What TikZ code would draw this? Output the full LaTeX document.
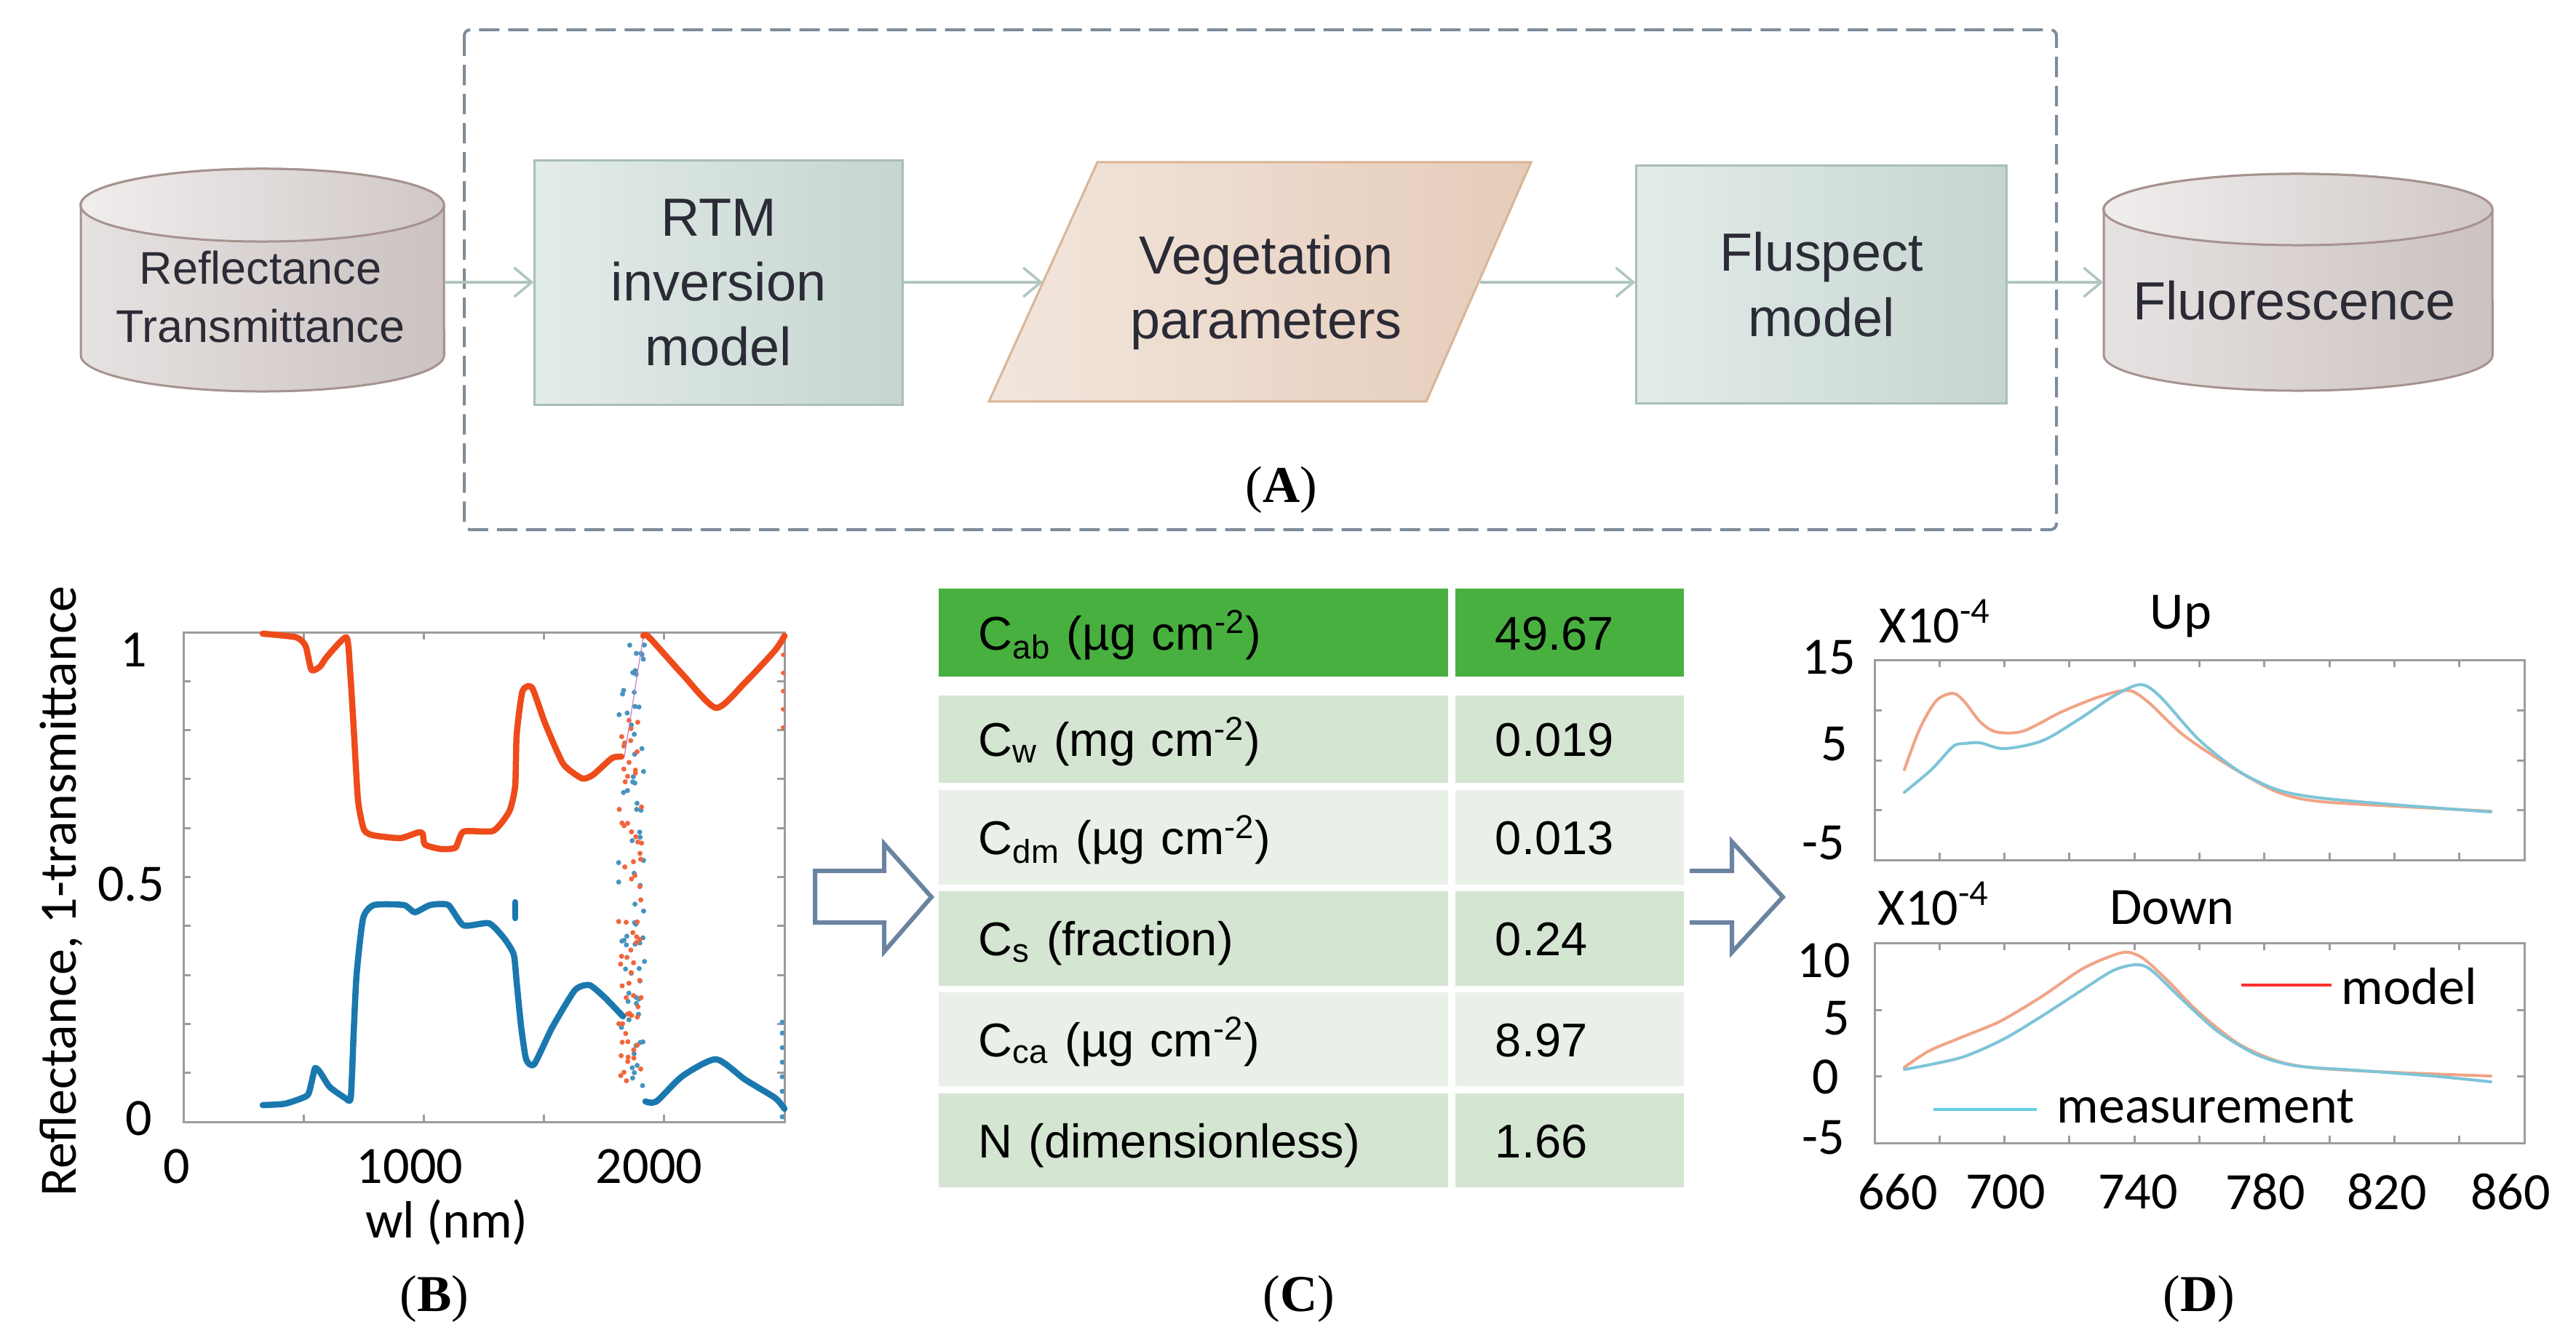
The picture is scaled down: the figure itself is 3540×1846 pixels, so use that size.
\documentclass[tikz,border=0pt]{standalone}
\usepackage{fontspec}
\setmainfont{Liberation Serif}
\newfontfamily\arialf{Liberation Sans}
\newfontfamily\calib{Carlito}
\usetikzlibrary{arrows.meta}
\definecolor{dashc}{HTML}{7D8B99}
\definecolor{connc}{HTML}{B0C6C0}
\definecolor{boxA}{HTML}{E3ECE9}
\definecolor{boxB}{HTML}{C6D5D0}
\definecolor{boxD}{HTML}{A9BEB7}
\definecolor{parA}{HTML}{F2E6DD}
\definecolor{parB}{HTML}{E5CCBA}
\definecolor{parD}{HTML}{D9B596}
\definecolor{cylA}{HTML}{E7E2E2}
\definecolor{cylB}{HTML}{CBC2C1}
\definecolor{cylD}{HTML}{A6928F}
\definecolor{txt}{HTML}{2B2B36}
\definecolor{tgreen}{HTML}{48B03F}
\definecolor{trowA}{HTML}{D4E5D1}
\definecolor{trowB}{HTML}{E9F0E7}
\definecolor{harrow}{HTML}{6A83A0}
\definecolor{refl}{HTML}{EE4B1B}
\definecolor{trans}{HTML}{1A78AE}
\definecolor{axisg}{HTML}{9C9C9C}
\definecolor{modc}{HTML}{F0A486}
\definecolor{meac}{HTML}{7DC4D8}
\definecolor{legr}{HTML}{FF3030}
\definecolor{legb}{HTML}{66CCE6}
\newcommand\cylfont{\arialf\fontsize{17.9pt}{23pt}\selectfont}
\newcommand\boxfont{\arialf\fontsize{21pt}{25.4pt}\selectfont}
\newcommand\tabfont{\arialf\fontsize{18.5pt}{22pt}\selectfont}
\newcommand\plotfont{\calib\fontsize{20.5pt}{24pt}\selectfont}
\newcommand\labfont{\fontsize{20.2pt}{24pt}\selectfont}
\tikzset{
 dashbox/.style={draw=dashc, line width=0.04cm, dash pattern=on 0.28cm off 0.12cm, rounded corners=0.08cm},
 conn/.style={draw=connc, line width=0.035cm, -{Straight Barb[length=0.24cm,width=0.40cm]}},
 procbox/.style={rectangle, draw=boxD, line width=0.03cm, left color=boxA, right color=boxB, text=txt, font=\boxfont, align=center, inner sep=0},
 cylbody/.style={draw=cylD, line width=0.03cm, left color=cylA, right color=cylB},
 cyltop/.style={draw=cylD, line width=0.03cm, left color=cylA!60!white, right color=cylB!90!white},
 ghost/.style={rectangle, draw=none, inner sep=0},
 cyltext/.style={text=txt, align=center, inner sep=0},
 cellt/.style={rectangle, inner ysep=0, inner xsep=0.55cm, text height=0.47cm, text depth=0cm, align=left, font=\tabfont, text=black},
 hollow/.style={draw=harrow, line width=0.06cm, line join=miter},
 axisl/.style={draw=axisg, line width=0.03cm},
 plt/.style={font=\plotfont, text=black, inner sep=0},
 panel/.style={font=\labfont, inner sep=0},
 bcurve/.style={line width=0.085cm, line join=round, line cap=round},
 dcurve/.style={line width=0.04cm, line join=round, line cap=round},
}
\begin{document}
\begin{tikzpicture}[x=0.01cm,y=-0.01cm]
\fill[white] (0,0) rectangle (3540,1846);
\useasboundingbox (0,0) rectangle (3540,1846);

% ---------------- (A) flow chart ----------------
\draw[dashbox] (638,41) rectangle (2826,728);

% left cylinder
\path[cylbody] (111,282) -- (111,488) arc[start angle=180,end angle=360,x radius=2.495cm,y radius=0.5cm] -- (610,282) arc[start angle=0,end angle=180,x radius=2.495cm,y radius=0.5cm] -- cycle;
\path[cyltop] (360.5,282) ellipse[x radius=2.495cm,y radius=0.5cm];
\node[ghost, minimum width=4.99cm, minimum height=3.0cm] (cylL) at (360.5,388) {};
\node[cyltext, font=\cylfont] (cylLt) at (358,408) {Reflectance\\Transmittance};

% RTM box
\node[procbox, minimum width=5.05cm, minimum height=3.35cm] (rtm) at (987.5,388.5) {RTM\\inversion\\model};

% parallelogram
\path[draw=parD, line width=0.03cm, left color=parA, right color=parB] (1508,223) -- (2104,223) -- (1960,552) -- (1359,552) -- cycle;
\node[cyltext, font=\boxfont] (vp) at (1740,402) {Vegetation\\parameters};
\coordinate (vpin) at (1433,388);
\coordinate (vpout) at (2034,388);

% Fluspect box
\node[procbox, minimum width=5.08cm, minimum height=3.26cm] (flu) at (2503,391) {Fluspect\\model};

% right cylinder
\path[cylbody] (2891,288) -- (2891,488) arc[start angle=180,end angle=360,x radius=2.67cm,y radius=0.49cm] -- (3425,288) arc[start angle=0,end angle=180,x radius=2.67cm,y radius=0.49cm] -- cycle;
\path[cyltop] (3158,288) ellipse[x radius=2.67cm,y radius=0.49cm];
\node[ghost, minimum width=5.34cm, minimum height=3.0cm] (cylR) at (3158,388) {};
\node[cyltext, font=\boxfont] (cylRt) at (3153,413.6) {Fluorescence};

% connectors
\draw[conn] (cylL.east) -- (cylL.east -| rtm.west);
\draw[conn] (rtm.east |- vpin) -- (vpin);
\draw[conn] (vpout) -- (vpout -| flu.west);
\draw[conn] (flu.east |- cylR.west) -- (cylR.west);

\node[panel] (labA) at (1761,673) {(\textbf{A})};

% ---------------- (B) plot ----------------
\draw[axisl] (252,869) rectangle (1078,1542);
\foreach \k in {1,...,4} {
  \draw[axisl] ({252+165.2*\k},1542) -- ++(0,-10);
  \draw[axisl] ({252+165.2*\k},869) -- ++(0,10);
}
\foreach \k in {1,...,9} {
  \draw[axisl] (252,{1542-67.3*\k}) -- ++(10,0);
  \draw[axisl] (1078,{1542-67.3*\k}) -- ++(-10,0);
}
% noise region
\pgfmathsetseed{11}
\foreach \i in {1,...,70} {
  \pgfmathsetmacro\px{868+18*rand}
  \pgfmathsetmacro\py{1205+330*rand}
  \fill[trans!80] (\px,\py) circle[radius=0.035cm];
}
\foreach \i in {1,...,70} {
  \pgfmathsetmacro\px{866+16*rand}
  \pgfmathsetmacro\py{1240+250*rand}
  \fill[refl!85] (\px,\py) circle[radius=0.035cm];
}
\foreach \py in {1405,1420,1440,1460,1480,1500,1520,1535} { \fill[trans!80] (1075,\py) circle[radius=0.035cm]; }
\foreach \py in {880,900,925,950,975,1000} { \fill[refl!85] (1076,\py) circle[radius=0.03cm]; }
\draw[violet!50, line width=0.012cm] (858,1040) -- (884,875);

\draw[refl, bcurve] plot[smooth, tension=0.35] coordinates {(361,871) (407,876) (420,888) (428,921) (440,916) (449,903) (476,876) (481,920) (486,1000) (492,1100) (500,1140) (512,1148) (550,1152) (575,1144) (581,1146) (584,1161) (606,1167) (626,1165) (637,1143) (678,1142) (700,1115) (708,1080) (710,1010) (718,950) (731,945) (749,994) (774,1050) (800,1070) (815,1065) (841,1042) (854,1040)};
\draw[refl, bcurve] plot[smooth, tension=0.4] coordinates {(884,874) (892,876) (938,927) (984,973) (1024,938) (1065,894) (1078,874)};
\draw[trans, bcurve] plot[smooth, tension=0.35] coordinates {(361,1519) (392,1517) (422,1506) (428,1488) (433,1468) (440,1474) (453,1494) (474,1509) (482,1509) (486,1420) (490,1340) (499,1262) (514,1244) (555,1244) (570,1254) (591,1244) (616,1244) (637,1272) (672,1269) (693,1290) (706,1312) (710,1350) (716,1410) (723,1456) (734,1463) (759,1412) (790,1361) (810,1354) (831,1371) (856,1397)};
\draw[trans, bcurve] plot[smooth, tension=0.4] coordinates {(887,1514) (902,1514) (938,1479) (984,1456) (1024,1484) (1065,1509) (1078,1524)};
\draw[trans, bcurve] (708,1240) -- (708,1262);

\node[plt] (by1) at (184,893) {1};
\node[plt] (by2) at (180,1215) {0.5};
\node[plt] (by3) at (191,1537) {0};
\node[plt] (bx1) at (243,1603) {0};
\node[plt] (bx2) at (563,1603) {1000};
\node[plt] (bx3) at (892,1603) {2000};
\node[plt] (bxl) at (614,1680) {wl (nm)};
\node[plt, rotate=90] (byl) at (84,1225) {Reflectance, 1-transmittance};
\node[panel] (labB) at (597,1785) {(\textbf{B})};

% hollow arrow B -> C
\draw[hollow] (1120,1197) -- (1215,1197) -- (1215,1160) -- (1280,1233) -- (1215,1308) -- (1215,1268) -- (1120,1268) -- cycle;

% ---------------- (C) table ----------------
\node[cellt, fill=tgreen, text width=5.9cm, minimum height=1.21cm] (c11) at (1640,869.5) {C\textsubscript{ab} (µg cm\textsuperscript{-2})};
\node[cellt, fill=tgreen, text width=2.04cm, minimum height=1.21cm] (c12) at (2157,869.5) {49.67};
\node[cellt, fill=trowA, text width=5.9cm, minimum height=1.20cm] (c21) at (1640,1016) {C\textsubscript{w} (mg cm\textsuperscript{-2})};
\node[cellt, fill=trowA, text width=2.04cm, minimum height=1.20cm] (c22) at (2157,1016) {0.019};
\node[cellt, fill=trowB, text width=5.9cm, minimum height=1.30cm] (c31) at (1640,1151) {C\textsubscript{dm} (µg cm\textsuperscript{-2})};
\node[cellt, fill=trowB, text width=2.04cm, minimum height=1.30cm] (c32) at (2157,1151) {0.013};
\node[cellt, fill=trowA, text width=5.9cm, minimum height=1.30cm] (c41) at (1640,1290) {C\textsubscript{s} (fraction)};
\node[cellt, fill=trowA, text width=2.04cm, minimum height=1.30cm] (c42) at (2157,1290) {0.24};
\node[cellt, fill=trowB, text width=5.9cm, minimum height=1.29cm] (c51) at (1640,1428.5) {C\textsubscript{ca} (µg cm\textsuperscript{-2})};
\node[cellt, fill=trowB, text width=2.04cm, minimum height=1.29cm] (c52) at (2157,1428.5) {8.97};
\node[cellt, fill=trowA, text width=5.9cm, minimum height=1.29cm] (c61) at (1640,1567.5) {N (dimensionless)};
\node[cellt, fill=trowA, text width=2.04cm, minimum height=1.29cm] (c62) at (2157,1567.5) {1.66};
\node[panel] (labC) at (1785,1785) {(\textbf{C})};

% hollow arrow C -> D (open tail)
\draw[hollow] (2322,1197) -- (2380,1197) -- (2380,1157) -- (2450,1233) -- (2380,1309) -- (2380,1268) -- (2322,1268);

% ---------------- (D) plots ----------------
\draw[axisl] (2576,907) rectangle (3469,1182);
\draw[axisl] (2576,1296) rectangle (3469,1571);
\foreach \k in {1,...,9} {
  \draw[axisl] ({2576+89.3*\k},907) -- ++(0,10);
  \draw[axisl] ({2576+89.3*\k},1182) -- ++(0,-10);
  \draw[axisl] ({2576+89.3*\k},1296) -- ++(0,10);
  \draw[axisl] ({2576+89.3*\k},1571) -- ++(0,-10);
}
\foreach \yy in {976,1045,1113,1388,1479} {
  \draw[axisl] (2576,\yy) -- ++(10,0);
  \draw[axisl] (3469,\yy) -- ++(-10,0);
}
% Up curves
\draw[modc, dcurve] plot[smooth, tension=0.5] coordinates {(2617,1058) (2638,1002) (2661,963) (2684,953) (2700,965) (2721,992) (2743,1006) (2780,1005) (2834,978) (2887,957) (2925,949) (2952,965) (3000,1010) (3064,1053) (3128,1088) (3182,1101) (3289,1108) (3423,1115)};
\draw[meac, dcurve] plot[smooth, tension=0.5] coordinates {(2617,1089) (2654,1058) (2684,1026) (2700,1022) (2721,1021) (2754,1029) (2807,1018) (2861,986) (2904,957) (2941,941) (2968,957) (3021,1016) (3075,1059) (3128,1085) (3182,1096) (3289,1106) (3423,1116)};
% Down curves
\draw[modc, dcurve] plot[smooth, tension=0.5] coordinates {(2617,1467) (2650,1445) (2690,1428) (2730,1412) (2754,1401) (2807,1369) (2861,1332) (2904,1313) (2925,1309) (2946,1318) (2979,1348) (3021,1391) (3075,1434) (3128,1458) (3182,1468) (3289,1474) (3423,1479)};
\draw[meac, dcurve] plot[smooth, tension=0.5] coordinates {(2617,1470) (2654,1463) (2700,1452) (2754,1428) (2807,1396) (2861,1361) (2904,1334) (2936,1326) (2957,1334) (3000,1375) (3048,1418) (3102,1450) (3155,1465) (3236,1471) (3343,1479) (3423,1487)};
% legend
\draw[legr, line width=0.045cm] (3080,1354) -- (3204,1354);
\node[plt, anchor=base west] (lgm) at (3217,1380) {model};
\draw[legb, line width=0.045cm] (2657,1525) -- (2799,1525);
\node[plt, anchor=base west] (lgs) at (2826,1543) {measurement};
% labels
\node[plt, anchor=base west] (xu) at (2582,883) {X10\textsuperscript{-4}};
\node[plt, anchor=base] (tu) at (2997,864) {Up};
\node[plt, anchor=base west] (xd) at (2580,1271) {X10\textsuperscript{-4}};
\node[plt, anchor=base] (td) at (2985,1270) {Down};
\node[plt] (u15) at (2513,904) {15};
\node[plt] (u5) at (2521,1023) {5};
\node[plt] (um5) at (2506,1159) {-5};
\node[plt] (d10) at (2506,1320) {10};
\node[plt] (d5) at (2524,1400) {5};
\node[plt] (d0) at (2509,1480) {0};
\node[plt] (dm5) at (2506,1564) {-5};
\node[plt] (x660) at (2608,1638) {660};
\node[plt] (x700) at (2756,1638) {700};
\node[plt] (x740) at (2938,1638) {740};
\node[plt] (x780) at (3113,1638) {780};
\node[plt] (x820) at (3280,1638) {820};
\node[plt] (x860) at (3450,1638) {860};
\node[panel] (labD) at (3022,1785) {(\textbf{D})};
\end{tikzpicture}
\end{document}
